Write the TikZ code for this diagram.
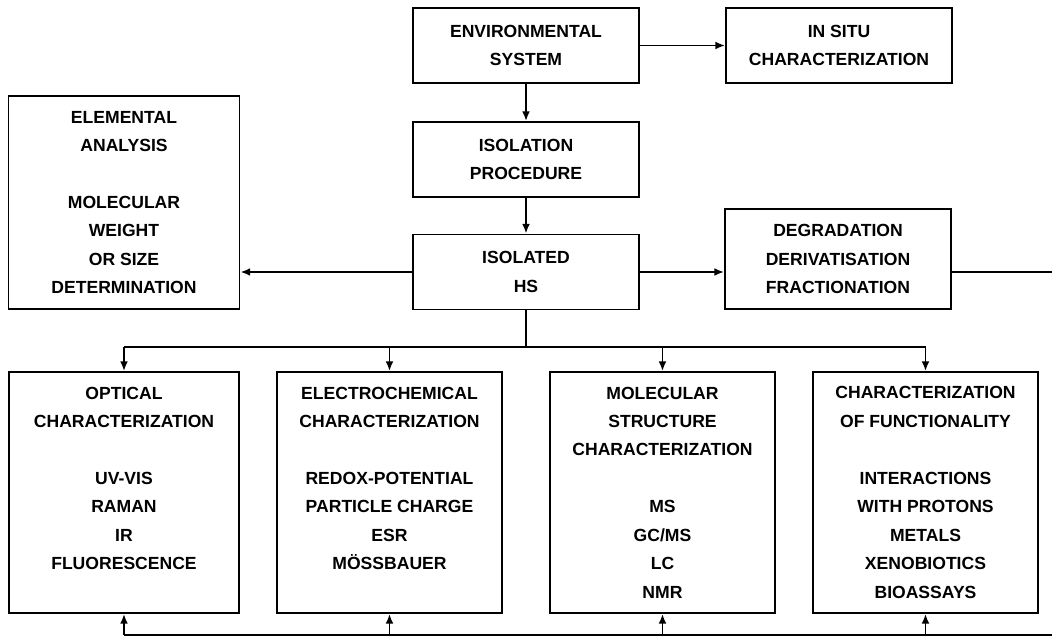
\documentclass[tikz,border=0pt]{standalone}
\usepackage{fontspec}
\setmainfont{Liberation Sans}
\usetikzlibrary{arrows.meta}

\begin{document}
\begin{tikzpicture}[x=0.02cm, y=-0.02cm,
  box/.style={draw, line width=1.1pt, align=center, inner sep=0pt,
    font=\bfseries\fontsize{10}{16.2}\selectfont},
  smallbox/.style={box, minimum width=4.52cm, minimum height=1.5cm},
  tallbox/.style={box, minimum width=4.5cm, minimum height=4.82cm},
  arr/.style={-{Latex[length=5.5pt,width=4.5pt]}, line width=1.1pt},
  ln/.style={line width=1.1pt}]
\useasboundingbox (0,0) rectangle (1052,641);

\node[smallbox] (env) at (526,45.5) {ENVIRONMENTAL\\SYSTEM};
\node[smallbox] (insitu) at (839,45.5) {IN SITU\\CHARACTERIZATION};
\node[smallbox] (isol) at (526,159.5) {ISOLATION\\PROCEDURE};
\node[smallbox] (hs) at (526,272) {ISOLATED\\HS};
\node[smallbox, minimum height=2cm] (degr) at (838,259) {DEGRADATION\\DERIVATISATION\\FRACTIONATION};
\node[box, minimum width=4.62cm, minimum height=4.26cm] (elem) at (124,202.5)
  {ELEMENTAL\\ANALYSIS\\~\\MOLECULAR\\WEIGHT\\OR SIZE\\DETERMINATION};

\node[tallbox, minimum width=4.6cm] (opt) at (124,492.5)
  {OPTICAL\\CHARACTERIZATION\\~\\UV-VIS\\RAMAN\\IR\\FLUORESCENCE\\~};
\node[tallbox] (elec) at (389.5,492.5)
  {ELECTROCHEMICAL\\CHARACTERIZATION\\~\\REDOX-POTENTIAL\\PARTICLE CHARGE\\ESR\\MÖSSBAUER\\~};
\node[tallbox] (mol) at (662.5,492.5)
  {MOLECULAR\\STRUCTURE\\CHARACTERIZATION\\~\\MS\\GC/MS\\LC\\NMR};
\node[tallbox] (func) at (925.5,492.5)
  {CHARACTERIZATION\\OF FUNCTIONALITY\\~\\INTERACTIONS\\WITH PROTONS\\METALS\\XENOBIOTICS\\BIOASSAYS};

\coordinate (split) at (526,347);
\coordinate (rightout) at (1052,272);
\coordinate (bus) at (1052,635);

\draw[arr] (env) -- (insitu);
\draw[arr] (env) -- (isol);
\draw[arr] (isol) -- (hs);
\draw[arr] (hs.west) -- (hs.west -| elem.east);
\draw[arr] (hs.east) -- (hs.east -| degr.west);
\draw[ln] (hs.east -| degr.east) -- (rightout);
\draw[ln] (hs.south) -- (split);
\draw[ln] (opt.north |- split) -- (func.north |- split);
\foreach \b in {opt, elec, mol, func} {
  \draw[arr] (\b.north |- split) -- (\b.north);
  \draw[arr] (\b.south |- bus) -- (\b.south);
}
\draw[ln] (opt.south |- bus) -- (bus);
\end{tikzpicture}
\end{document}
